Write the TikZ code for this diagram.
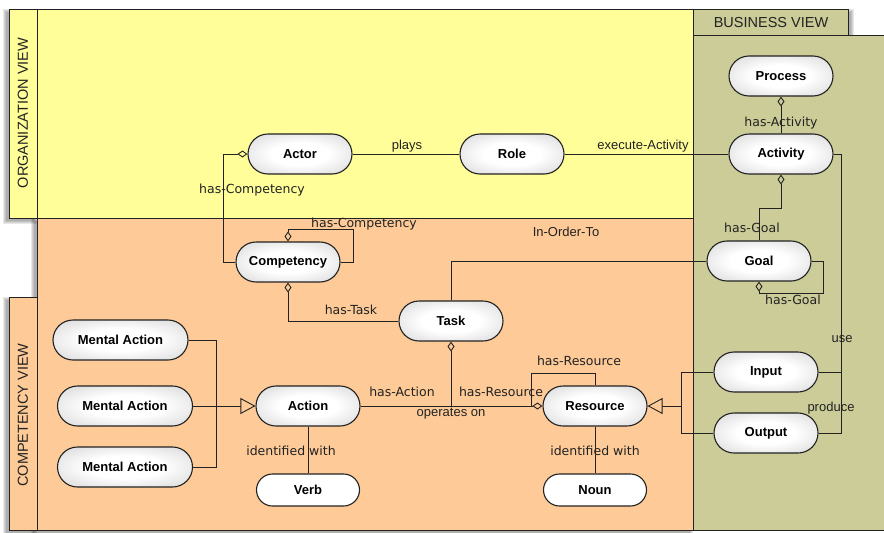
\documentclass[tikz,border=0pt]{standalone}
\usepackage{fontspec}
\setmainfont{Liberation Sans}
\newfontfamily\lblfont{DejaVu Sans}
\usetikzlibrary{arrows.meta}

\definecolor{orgyellow}{RGB}{255,254,153}
\definecolor{comporange}{RGB}{254,203,152}
\definecolor{busolive}{RGB}{204,204,153}
\definecolor{ink}{RGB}{34,34,34}

% white centre fading to grey only near the outline
\pgfdeclareradialshading{pillshade}{\pgfpoint{0bp}{0bp}}{%
  color(0bp)=(white); color(14bp)=(white); color(50bp)=(black!26);
  color(72bp)=(black!30)}

\tikzset{
  panel/.style={draw=ink, line width=0.9pt},
  concept/.style={draw=ink, line width=1.1pt, rounded corners=20pt,
    minimum width=104pt, minimum height=40pt, inner sep=0pt,
    shading=pillshade,
    font=\fontsize{13}{15}\selectfont\bfseries},
  wideconcept/.style={concept, minimum width=135pt},
  term/.style={draw=ink, line width=1.1pt, rounded corners=16pt,
    minimum width=103pt, minimum height=32pt, inner sep=0pt, fill=white,
    font=\fontsize{13}{15}\selectfont\bfseries},
  link/.style={draw=ink, line width=0.9pt},
  agg/.style={{Diamond[open, length=10pt, width=7pt]}-},
  aggend/.style={-{Diamond[open, length=10pt, width=7pt]}},
  gen/.style={-{Triangle[open, length=15pt, width=16pt]}},
  rel/.style={text=ink, inner sep=1pt, font=\lblfont\fontsize{12.5}{14}\selectfont},
  relh/.style={text=ink, inner sep=1pt, font=\fontsize{13}{15}\selectfont},
  heading/.style={text=ink, inner sep=0pt, font=\fontsize{14.5}{16}\selectfont},
  softshadow/.style={fill=black, opacity=0.09}
}

\begin{document}
\begin{tikzpicture}[x=1pt, y=-1pt]
\useasboundingbox (0,0) rectangle (884,533);
\begin{scope}
\clip (0,0) rectangle (884,533);

% soft shadows behind the panel tabs
\foreach \d in {0,1,2,3} {
  \fill[softshadow] (6-\d,12-\d) rectangle (34+\d,221+\d);
  \fill[softshadow] (34-\d,221-\d) rectangle (690+\d,533+\d);
  \fill[softshadow] (6-\d,300-\d) rectangle (34+\d,533+\d);
  \fill[softshadow] (696-\d,12-\d) rectangle (851+\d,38+\d);
}

% organization view
\filldraw[panel, fill=orgyellow] (37,9) rectangle (693,218);
\filldraw[panel, fill=orgyellow] (9,9) rectangle (37,218);

% competency view
\filldraw[panel, fill=comporange] (37,218) rectangle (693,530);
\filldraw[panel, fill=comporange] (9,297) rectangle (37,530);

% business view
\filldraw[panel, fill=busolive] (693,9) rectangle (848,35);
\filldraw[panel, fill=busolive] (693,35) rectangle (900,530);
\end{scope}

\node[heading, rotate=90] (orghead) at (23,113) {ORGANIZATION VIEW};
\node[heading, rotate=90] (comphead) at (23,415) {COMPETENCY VIEW};
\node[heading] (bushead) at (771,23) {BUSINESS VIEW};

% concepts
\node[concept] (actor) at (300,154) {Actor};
\node[concept] (role) at (512,154) {Role};
\node[concept] (process) at (781,76) {Process};
\node[concept] (activity) at (781,154) {Activity};
\node[concept] (competency) at (288,262) {Competency};
\node[concept] (goal) at (759,261) {Goal};
\node[concept] (task) at (451,321) {Task};
\node[wideconcept] (ma1) at (120.5,340) {Mental Action};
\node[wideconcept] (ma2) at (125,406) {Mental Action};
\node[wideconcept] (ma3) at (125,467) {Mental Action};
\node[concept] (action) at (308,406) {Action};
\node[concept] (resource) at (595,406) {Resource};
\node[concept] (input) at (766,372) {Input};
\node[concept] (output) at (766,433) {Output};
\node[term] (verb) at (308,490) {Verb};
\node[term] (noun) at (595,490) {Noun};

% junction points
\coordinate (maj) at (216,406);
\coordinate (ioj) at (681,406);

% organization relations
\draw[link] (actor) -- (role);
\draw[link] (role) -- (activity);
\draw[link, agg] (actor.west) -- (223,154) |- (competency.west);
\draw[link, agg] (competency.north) |- (353,229) |- (competency.east);
\draw[link, agg] (competency.south) |- (task.west);
\draw[link] (task.north) |- (goal.west);

% business relations
\draw[link, agg] (process.south) -- (activity.north);
\draw[link, agg] (activity.south) -- (781,208) -| (goal.north);
\draw[link, agg] (goal.south) |- (823,293) |- (goal.east);
\draw[link] (activity.east) -- (841,154) |- (input.east);
\draw[link] (output.east) -- (841,433) -- (841,372);

% generalisations
\draw[link] (input.west) -- (681,372) |- (output.west);
\draw[link, gen] (ioj) -- (resource.east);
\draw[link] (ma1.east) -- (216,340) |- (ma3.east);
\draw[link, gen] (ma2.east) -- (action.west);

% competency relations
\draw[link, aggend] (action.east) -- (resource.west);
\draw[link, agg] (task.south) -- (task.south |- action.east);
\draw[link] (resource.north) |- (531,373) -- (531,406);
\draw[link] (action) -- (verb);
\draw[link] (resource) -- (noun);

% relation labels
\node[relh] (lplays) at (407,146) {plays};
\node[relh] (lexec) at (643,146) {execute-Activity};
\node[rel] (lhc1) at (252,190) {has-Competency};
\node[rel] (lhc2) at (364,224) {has-Competency};
\node[relh] (lorder) at (566,232) {In-Order-To};
\node[rel] (lht) at (351,310) {has-Task};
\node[rel] (lha) at (781,123) {has-Activity};
\node[rel] (lhg1) at (752,228) {has-Goal};
\node[rel] (lhg2) at (793,300) {has-Goal};
\node[relh] (luse) at (842,339) {use};
\node[relh] (lprod) at (831,408) {produce};
\node[rel] (lhact) at (402,392) {has-Action};
\node[rel] (lhr1) at (501,392) {has-Resource};
\node[relh] (lops) at (451,414) {operates on};
\node[rel] (lhr2) at (579,361) {has-Resource};
\node[rel] (lid1) at (291,451) {identified with};
\node[rel] (lid2) at (595,451) {identified with};
\end{tikzpicture}
\end{document}
